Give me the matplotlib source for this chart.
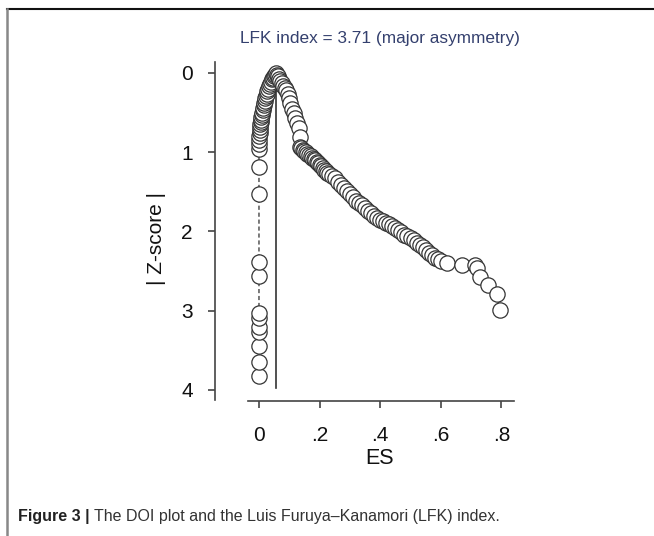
import matplotlib.pyplot as plt
from matplotlib.lines import Line2D

plt.rcParams['font.family'] = ['Liberation Sans', 'DejaVu Sans']

# Datos del DOI plot (ES, |Z-score|)
# rama izquierda (ES ordenado de menor a mayor)
es_izq = [0.000, 0.000, 0.000, 0.000, 0.000, 0.000, 0.000, 0.000, 0.000,
          0.000, 0.000, 0.000, 0.000, 0.000, 0.001, 0.002, 0.003, 0.004,
          0.005, 0.006, 0.007, 0.008, 0.009, 0.010, 0.012, 0.013, 0.015,
          0.017, 0.019, 0.021, 0.023, 0.025, 0.028, 0.031, 0.034, 0.037,
          0.040, 0.043, 0.046, 0.049, 0.052]
z_izq = [3.83, 3.65, 3.45, 3.27, 3.20, 3.09, 3.03, 2.56, 2.38, 1.53,
         1.19, 0.96, 0.90, 0.85, 0.80, 0.76, 0.72, 0.68, 0.65, 0.62,
         0.59, 0.56, 0.53, 0.50, 0.47, 0.44, 0.41, 0.38, 0.35, 0.32,
         0.29, 0.26, 0.23, 0.20, 0.17, 0.14, 0.11, 0.08, 0.06, 0.04,
         0.02]

# rama derecha
es_der = [0.055, 0.058, 0.062, 0.066, 0.070, 0.075, 0.080, 0.085, 0.090,
          0.095, 0.099, 0.104, 0.109, 0.114, 0.119, 0.126, 0.132, 0.135,
          0.135, 0.140, 0.145, 0.150, 0.155, 0.160, 0.165, 0.170, 0.175,
          0.180, 0.185, 0.190, 0.195, 0.200, 0.205, 0.210, 0.215, 0.220,
          0.225, 0.230, 0.240, 0.250, 0.260, 0.270, 0.280, 0.290, 0.300,
          0.310, 0.320, 0.330, 0.340, 0.350, 0.360, 0.370, 0.380, 0.390,
          0.400, 0.410, 0.420, 0.430, 0.440, 0.450, 0.460, 0.470, 0.480,
          0.490, 0.500, 0.510, 0.520, 0.530, 0.540, 0.550, 0.560, 0.570,
          0.580, 0.590, 0.600, 0.620, 0.670, 0.713, 0.720, 0.730, 0.755,
          0.785, 0.795]
z_der = [0.00, 0.02, 0.04, 0.07, 0.10, 0.13, 0.16, 0.19, 0.22, 0.26,
         0.31, 0.38, 0.45, 0.51, 0.57, 0.63, 0.69, 0.81, 0.93, 0.95,
         0.97, 0.99, 1.00, 1.02, 1.03, 1.05, 1.07, 1.09, 1.10, 1.12,
         1.14, 1.16, 1.18, 1.20, 1.22, 1.24, 1.26, 1.28, 1.30, 1.33,
         1.37, 1.41, 1.45, 1.49, 1.53, 1.57, 1.61, 1.64, 1.67, 1.71,
         1.74, 1.77, 1.80, 1.83, 1.85, 1.87, 1.89, 1.91, 1.93, 1.95,
         1.98, 2.01, 2.04, 2.06, 2.08, 2.11, 2.14, 2.17, 2.20, 2.23,
         2.27, 2.30, 2.33, 2.35, 2.37, 2.40, 2.42, 2.42, 2.46, 2.57,
         2.68, 2.79, 2.99]

es_mediana = 0.056  # linea vertical (ES con |Z| minimo)
lfk = 3.71

x_ticks = [0, 0.2, 0.4, 0.6, 0.8]
x_labels = ["0", ".2", ".4", ".6", ".8"]
y_ticks = [0, 1, 2, 3, 4]
y_labels = ["0", "1", "2", "3", "4"]

es = es_izq + es_der
z = z_izq + z_der

fig = plt.figure(figsize=(6.54, 5.36), dpi=100)
ax = fig.add_axes([0.3287, 0.2519, 0.4612, 0.6415])

ax.plot(es, z, color="#444444", lw=1, dashes=(3, 2), zorder=1)
ax.plot([es_mediana, es_mediana], [0, 3.97], color="#333333", lw=1.2, zorder=2)
ax.plot(es, z, linestyle="none", marker="o", ms=11, mfc="white",
        mec="#333333", mew=0.9, zorder=3)

ax.set_xlim(-0.1452, 0.85)
ax.set_ylim(4.139, -0.2)

for s in ["top", "right"]:
    ax.spines[s].set_visible(False)
ax.spines["left"].set_bounds(-0.14, 4.13)
ax.spines["bottom"].set_bounds(-0.036, 0.84)
for s in ["left", "bottom"]:
    ax.spines[s].set_color("#444444")
    ax.spines[s].set_linewidth(1.2)

ax.set_xticks(x_ticks)
ax.set_xticklabels(x_labels)
ax.set_yticks(y_ticks)
ax.set_yticklabels(y_labels)
ax.tick_params(axis="x", length=5, width=1.2, color="#444444", pad=13,
               labelsize=15, labelcolor="#111111")
ax.tick_params(axis="y", length=5, width=1.2, color="#444444", pad=11,
               labelsize=15, labelcolor="#111111")

fig.text(157 / 654, 1 - 239 / 536, "| Z-score |", rotation=90, fontsize=15,
         ha="center", va="center", color="#111111")
fig.text(380 / 654, 1 - 458 / 536, "ES", fontsize=15.5, ha="center",
         va="center", color="#111111")
fig.text(380 / 654, 1 - 38 / 536, f"LFK index = {lfk} (major asymmetry)",
         fontsize=12.4, ha="center", va="center", color="#34406e")

# pie de figura
t = fig.text(18 / 654, 1 - 516 / 536, "Figure 3 | ", fontsize=11.5,
             fontweight="bold", ha="left", va="center", color="#222222")
fig.canvas.draw()
bb = t.get_window_extent()
fig.text(bb.x1 / fig.bbox.width, 1 - 516 / 536,
         "The DOI plot and the Luis Furuya\u2013Kanamori (LFK) index.",
         fontsize=11.5, ha="left", va="center", color="#333333")

# marco de la figura
fig.add_artist(Line2D([7 / 654, 1], [1 - 9 / 536, 1 - 9 / 536],
                      color="#111111", lw=1.5))
fig.add_artist(Line2D([7 / 654, 7 / 654], [0, 1 - 9 / 536],
                      color="#888888", lw=1.8))

fig.savefig("out.png", dpi=100)
